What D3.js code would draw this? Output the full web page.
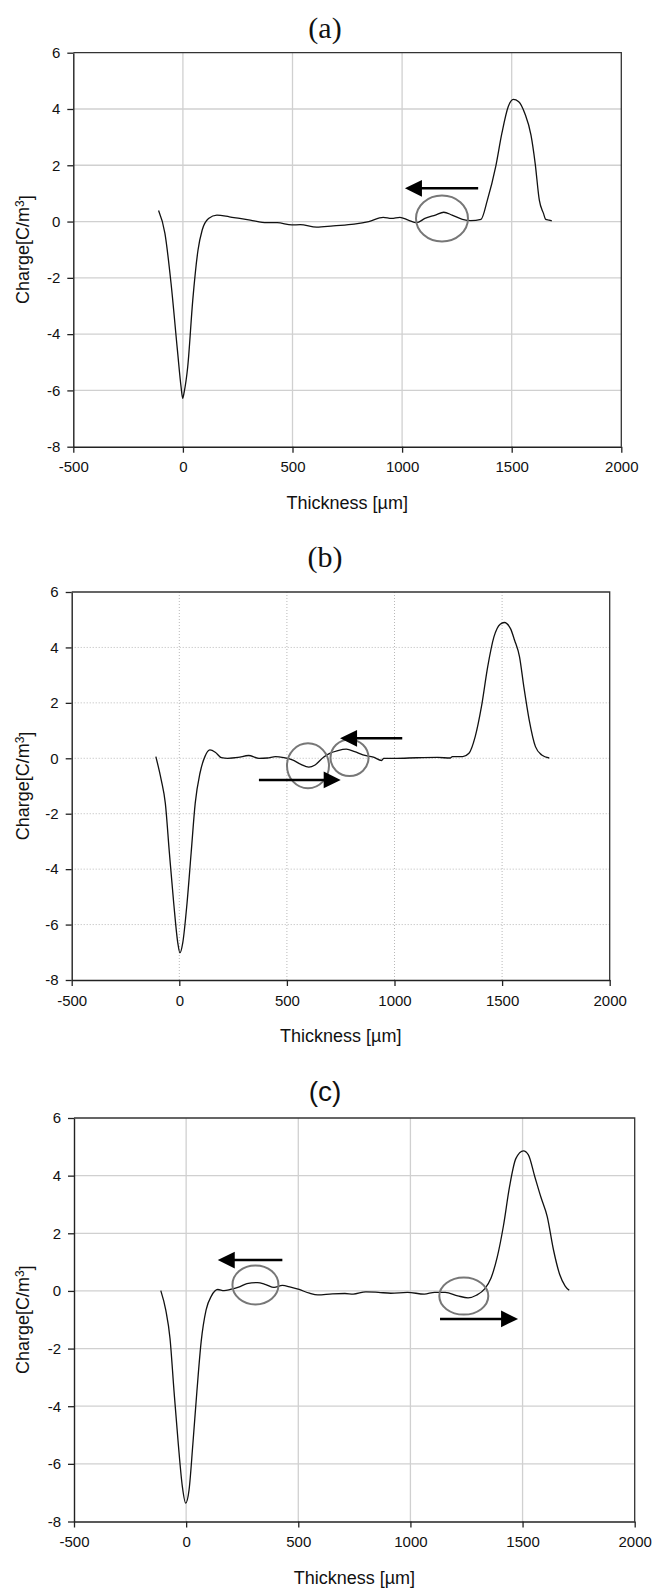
<!DOCTYPE html>
<html>
<head>
<meta charset="utf-8">
<script src="https://cdn.jsdelivr.net/npm/d3@7"></script>
<style>
  body { margin: 0; background: #fff; }
  svg { display: block; }
  text { font-family: "Liberation Sans", Arial, sans-serif; fill: #111; }
</style>
</head>
<body>
<svg id="chart" width="653" height="1591"></svg>
<script>
// valeurs
const xTicks = [-500, 0, 500, 1000, 1500, 2000];
const yTicks = [-8, -6, -4, -2, 0, 2, 4, 6];

const thicknessA = [-111, -82, -54, -25, -8, -1, 6, 22, 45, 69, 88, 117, 155, 212, 259, 307, 383, 430, 497, 535, 610, 686, 781, 848, 914, 952, 990, 1028, 1066, 1104, 1152, 1190, 1228, 1275, 1313, 1360, 1389, 1427, 1455, 1484, 1507, 1532, 1560, 1588, 1607, 1626, 1645, 1655, 1670, 1683];
const chargeA = [0.39, -0.42, -2.2, -4.57, -5.9, -6.28, -6.05, -5.16, -2.79, -1.01, -0.3, 0.11, 0.23, 0.17, 0.11, 0.05, -0.04, -0.04, -0.12, -0.11, -0.2, -0.15, -0.09, 0.0, 0.15, 0.11, 0.15, 0.05, -0.04, 0.11, 0.23, 0.33, 0.23, 0.08, 0.03, 0.08, 0.76, 1.95, 3.13, 4.08, 4.34, 4.26, 3.84, 3.07, 2.07, 0.76, 0.29, 0.08, 0.05, 0.02];

const thicknessB = [-109, -84, -65, -46, -26, -7, 3, 16, 36, 55, 74, 96, 119, 142, 167, 196, 225, 273, 322, 370, 409, 447, 486, 525, 563, 602, 631, 670, 699, 737, 776, 815, 853, 902, 940, 950, 1008, 1104, 1201, 1259, 1269, 1317, 1346, 1375, 1404, 1433, 1462, 1491, 1510, 1539, 1558, 1581, 1601, 1626, 1655, 1684, 1719];
const chargeB = [0.06, -0.78, -1.62, -3.42, -5.22, -6.66, -7.02, -6.66, -5.22, -3.42, -1.62, -0.54, 0.06, 0.3, 0.22, 0.02, 0.0, 0.03, 0.1, 0.0, 0.01, 0.06, 0.02, -0.06, -0.21, -0.32, -0.24, 0.04, 0.18, 0.28, 0.33, 0.24, 0.12, 0.04, -0.08, 0.0, 0.0, 0.02, 0.03, 0.01, 0.06, 0.06, 0.18, 0.78, 1.86, 3.3, 4.38, 4.84, 4.9, 4.68, 4.26, 3.66, 2.58, 1.38, 0.42, 0.12, 0.01];

const thicknessC = [-113, -91, -72, -54, -35, -17, -2, 13, 30, 48, 67, 89, 113, 141, 169, 197, 234, 271, 318, 355, 392, 429, 466, 504, 550, 587, 652, 708, 745, 801, 857, 913, 987, 1062, 1108, 1155, 1211, 1257, 1294, 1331, 1359, 1387, 1415, 1442, 1470, 1504, 1526, 1554, 1582, 1610, 1638, 1666, 1690, 1708];
const chargeC = [0.01, -0.66, -1.64, -3.48, -5.31, -6.78, -7.36, -6.9, -5.31, -3.48, -1.76, -0.66, -0.17, 0.05, 0.01, 0.05, 0.13, 0.25, 0.29, 0.22, 0.12, 0.19, 0.13, 0.05, -0.08, -0.14, -0.1, -0.09, -0.11, -0.03, -0.05, -0.08, -0.05, -0.11, -0.05, -0.05, -0.17, -0.24, -0.15, 0.07, 0.44, 1.17, 2.27, 3.62, 4.59, 4.86, 4.72, 3.98, 3.25, 2.58, 1.42, 0.56, 0.17, 0.02];

// annotations (unités des axes)
const circlesA = [{x: 1182, y: 0.11, rx: 26, ry: 23}];
const arrowsA = [{from: 1347, to: 1013, y: 1.18}];
const circlesB = [{x: 598, y: -0.27, rx: 21, ry: 22.5}, {x: 791, y: 0.02, rx: 19, ry: 18.3}];
const arrowsB = [{from: 1036, to: 747, y: 0.72}, {from: 370, to: 750, y: -0.78}];
const circlesC = [{x: 309, y: 0.21, rx: 23, ry: 19.5}, {x: 1238, y: -0.18, rx: 24.5, ry: 18.5}];
const arrowsC = [{from: 429, to: 141, y: 1.07}, {from: 1132, to: 1480, y: -0.97}];

const panels = [
  {title: "(a)", serif: true, left: 73.3, right: 621.3, top: 52.7, bottom: 446.7, titleY: 27, xLabelY: 503,
   xs: thicknessA, ys: chargeA, circles: circlesA, arrows: arrowsA, dotted: false},
  {title: "(b)", serif: true, left: 71.7, right: 609.7, top: 592, bottom: 980, titleY: 556, xLabelY: 1036,
   xs: thicknessB, ys: chargeB, circles: circlesB, arrows: arrowsB, dotted: true},
  {title: "(c)", serif: false, left: 74, right: 634.7, top: 1118, bottom: 1521.5, titleY: 1091, xLabelY: 1578,
   xs: thicknessC, ys: chargeC, circles: circlesC, arrows: arrowsC, dotted: false}
];

const svg = d3.select("#chart");

panels.forEach(p => {
  const x = d3.scaleLinear().domain([-500, 2000]).range([p.left, p.right]);
  const y = d3.scaleLinear().domain([-8, 6]).range([p.bottom, p.top]);
  const g = svg.append("g");

  // grille
  const grid = g.append("g")
    .attr("stroke", p.dotted ? "#b8b8b8" : "#d0d0d0")
    .attr("stroke-width", p.dotted ? 1 : 1.3)
    .attr("stroke-dasharray", p.dotted ? "1,2" : null);
  grid.selectAll(".gx").data(xTicks.slice(1, -1)).enter().append("line")
    .attr("x1", d => x(d)).attr("x2", d => x(d))
    .attr("y1", p.top).attr("y2", p.bottom);
  grid.selectAll(".gy").data(yTicks.slice(1, -1)).enter().append("line")
    .attr("x1", p.left).attr("x2", p.right)
    .attr("y1", d => y(d)).attr("y2", d => y(d));

  // cadre haut et droite
  g.append("path")
    .attr("d", `M${p.left},${p.top}H${p.right}V${p.bottom}`)
    .attr("fill", "none").attr("stroke", "#333").attr("stroke-width", 1.3);

  const axeX = d3.axisBottom(x).tickValues(xTicks).tickSize(6).tickSizeOuter(0).tickPadding(9)
    .tickFormat(d => String(d));
  const axeY = d3.axisLeft(y).tickValues(yTicks).tickSize(6).tickSizeOuter(0).tickPadding(7)
    .tickFormat(d => String(d));

  const gx = g.append("g").attr("transform", `translate(0,${p.bottom})`).call(axeX);
  const gy = g.append("g").attr("transform", `translate(${p.left},0)`).call(axeY);
  [gx, gy].forEach(a => {
    a.select(".domain").attr("stroke", "#222").attr("stroke-width", 1.4);
    a.selectAll(".tick line").attr("stroke", "#222").attr("stroke-width", 1.3);
    a.selectAll(".tick text")
      .style("font-family", '"Liberation Sans", Arial, sans-serif')
      .style("font-size", "15px").attr("fill", "#111");
  });

  // courbe
  const line = d3.line().x(d => x(d[0])).y(d => y(d[1])).curve(d3.curveMonotoneX);
  g.append("path")
    .datum(p.xs.map((v, i) => [v, p.ys[i]]))
    .attr("d", line)
    .attr("fill", "none").attr("stroke", "#111").attr("stroke-width", 1.3);

  // cercles
  g.selectAll(".circ").data(p.circles).enter().append("ellipse")
    .attr("cx", d => x(d.x)).attr("cy", d => y(d.y))
    .attr("rx", d => d.rx).attr("ry", d => d.ry)
    .attr("fill", "none").attr("stroke", "#777").attr("stroke-width", 2);

  // fleches
  p.arrows.forEach(a => {
    const dir = a.to > a.from ? 1 : -1;
    const xt = x(a.to), yy = y(a.y), head = 17;
    g.append("line")
      .attr("x1", x(a.from)).attr("x2", xt - dir * head + dir * 2)
      .attr("y1", yy).attr("y2", yy)
      .attr("stroke", "#000").attr("stroke-width", 2.5);
    g.append("path")
      .attr("d", `M${xt},${yy}L${xt - dir * head},${yy - 8.3}L${xt - dir * head},${yy + 8.3}Z`)
      .attr("fill", "#000");
  });

  // titres
  g.append("text")
    .attr("x", 325).attr("y", p.titleY)
    .attr("text-anchor", "middle").attr("dy", "0.35em")
    .style("font-family", p.serif ? '"Liberation Serif", "Times New Roman", serif' : '"Liberation Sans", Arial, sans-serif')
    .style("font-size", p.serif ? "30px" : "28px")
    .text(p.title);

  g.append("text")
    .attr("x", (p.left + p.right) / 2).attr("y", p.xLabelY)
    .attr("text-anchor", "middle").attr("dy", "0.35em")
    .style("font-size", "18px")
    .text("Thickness [µm]");

  const yl = g.append("text")
    .attr("transform", `translate(23,${(p.top + p.bottom) / 2}) rotate(-90)`)
    .attr("text-anchor", "middle").attr("dy", "0.35em")
    .style("font-size", "18px");
  yl.append("tspan").text("Charge[C/m");
  yl.append("tspan").attr("dy", "-0.45em").style("font-size", "12px").text("3");
  yl.append("tspan").attr("dy", "0.45em").text("]");
});
</script>
</body>
</html>
